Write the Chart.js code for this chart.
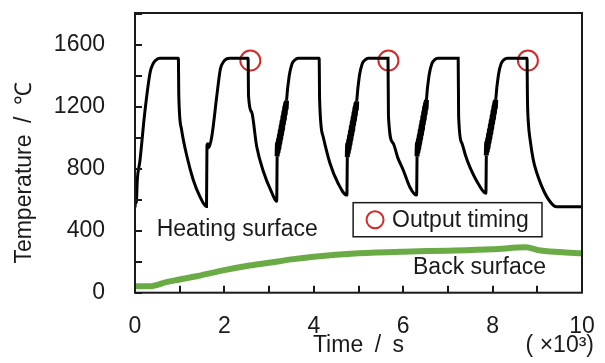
<!DOCTYPE html>
<html>
<head>
<meta charset="utf-8">
<script src="https://cdn.jsdelivr.net/npm/chart.js@4"></script>
<style>
  html, body { margin: 0; padding: 0; background: #fff; }
  #box { width: 605px; height: 363px; }
</style>
</head>
<body>
<div id="box"><canvas id="temps"></canvas></div>
<script>
// time in 10^3 s, temperature in degC
const heatTime = [
  0.00, 0.02, 0.03, 0.05, 0.11, 0.22, 0.34, 0.40, 0.45, 0.55, 0.97,
  0.98, 1.04, 1.16, 1.30, 1.45, 1.60,
  1.61, 1.63, 1.65, 1.72, 1.83, 1.91, 1.98, 2.05, 2.12, 2.53,
  2.54, 2.61, 2.72, 2.87, 3.06, 3.17,
  3.18, 3.19, 3.20, 3.21, 3.22, 3.23, 3.24, 3.25, 3.26, 3.27, 3.28, 3.29, 3.30, 3.31, 3.32, 3.33, 3.34, 3.35, 3.36, 3.37, 3.38, 3.39,
  3.45, 3.51, 3.57, 3.65, 4.12,
  4.13, 4.21, 4.36, 4.54, 4.74,
  4.75, 4.76, 4.77, 4.78, 4.79, 4.80, 4.81, 4.82, 4.83, 4.84, 4.85, 4.86, 4.87, 4.88, 4.89, 4.90, 4.91, 4.92, 4.93, 4.94, 4.95, 4.96,
  5.02, 5.08, 5.14, 5.22, 5.66,
  5.67, 5.77, 5.88, 6.00, 6.15, 6.30,
  6.31, 6.32, 6.33, 6.34, 6.35, 6.36, 6.37, 6.38, 6.39, 6.40, 6.41, 6.42, 6.43, 6.44, 6.45, 6.46, 6.47, 6.48, 6.49, 6.50, 6.51, 6.52,
  6.58, 6.64, 6.70, 6.78, 7.23,
  7.24, 7.31, 7.40, 7.49, 7.67, 7.85,
  7.86, 7.87, 7.88, 7.89, 7.90, 7.91, 7.92, 7.93, 7.94, 7.95, 7.96, 7.97, 7.98, 7.99, 8.00, 8.01, 8.02, 8.03, 8.04, 8.05, 8.06, 8.07,
  8.13, 8.19, 8.25, 8.33, 8.77,
  8.78, 8.80, 8.84, 8.91, 8.99, 9.17, 9.36, 9.44, 10.00
];
const heatTemp = [
  550, 620, 580, 720, 850, 1165, 1424, 1475, 1496, 1513, 1513,
  1270, 1055, 882, 731, 622, 557,
  950, 962, 935, 1011, 1270, 1444, 1490, 1509, 1513, 1513,
  1270, 1165, 947, 784, 646, 590,
  880, 965, 905, 990, 930, 1020, 960, 1050, 990, 1080, 1020, 1110, 1050, 1140, 1085, 1170, 1115, 1200, 1150, 1225, 1185, 1240,
  1400, 1475, 1500, 1513, 1513,
  1246, 1006, 837, 708, 630,
  875, 960, 900, 985, 925, 1015, 955, 1045, 985, 1075, 1015, 1105, 1045, 1135, 1080, 1165, 1110, 1195, 1145, 1220, 1180, 1235,
  1400, 1475, 1500, 1513, 1513,
  1140, 967, 870, 792, 681, 630,
  880, 965, 905, 990, 930, 1020, 960, 1050, 990, 1080, 1020, 1110, 1050, 1140, 1085, 1170, 1115, 1200, 1150, 1225, 1185, 1245,
  1405, 1478, 1502, 1513, 1513,
  1140, 967, 880, 812, 708, 642,
  885, 970, 910, 995, 935, 1025, 965, 1055, 995, 1085, 1025, 1115, 1055, 1145, 1090, 1175, 1120, 1205, 1155, 1230, 1190, 1245,
  1405, 1478, 1502, 1513, 1513,
  1246, 1097, 986, 857, 772, 642, 564, 554, 554
];
// stretches where the thermocouple signal is noisy (drawn as a thick band)
const noisyFrom = [3.18, 4.75, 6.31, 7.86];
const noisyTo = [3.39, 4.96, 6.52, 8.07];

const backTime = [0, 0.35, 0.7, 1, 1.4, 2, 2.5, 3, 3.5, 4, 5, 6, 7, 8, 8.75, 9, 9.5, 10];
const backTemp = [42, 42, 68, 85, 108, 146, 172, 193, 215, 232, 254, 265, 271, 280, 293, 276, 262, 254];

const markTime = [2.58, 5.67, 8.79];
const markTemp = [1498, 1498, 1498];

const xTicks = [0, 1, 2, 3, 4, 5, 6, 7, 8, 9, 10];
const xLabels = [0, 2, 4, 6, 8, 10];
const yTicks = [0, 200, 400, 600, 800, 1000, 1200, 1400, 1600, 1800];
const yLabels = [0, 400, 800, 1200, 1600];

const FONT = 'Arial, "Liberation Sans", sans-serif';
const INK = '#1a1a1a';
const SP = '\u2002';

const toPts = (xs, ys) => xs.map((x, i) => ({x: x, y: ys[i]}));
const noPad = s => { s.paddingTop = 0; s.paddingBottom = 0; s.paddingLeft = 0; s.paddingRight = 0; };
const isNoisy = t => noisyFrom.some((f, i) => t >= f - 1e-6 && t < noisyTo[i] - 1e-6);

// frame, inward ticks and the texts inside the plot
const decor = {
  id: 'decor',
  afterDatasetsDraw(chart) {
    const {ctx, chartArea: a, scales: {x, y}} = chart;
    ctx.save();
    ctx.strokeStyle = INK;
    ctx.lineWidth = 2;
    ctx.beginPath();
    y.ticks.forEach(t => {
      const py = Math.round(y.getPixelForValue(t.value));
      ctx.moveTo(a.left, py); ctx.lineTo(a.left + 7, py);
    });
    x.ticks.forEach(t => {
      const px = Math.round(x.getPixelForValue(t.value));
      ctx.moveTo(px, a.bottom); ctx.lineTo(px, a.bottom - 7);
    });
    ctx.stroke();
    ctx.strokeRect(a.left, a.top, a.right - a.left, a.bottom - a.top);

    ctx.fillStyle = INK;
    ctx.font = '23px ' + FONT;
    ctx.textBaseline = 'middle';
    ctx.textAlign = 'left';
    ctx.fillText('Heating surface', x.getPixelForValue(0.485), y.getPixelForValue(404));
    ctx.fillText('Back surface', x.getPixelForValue(6.22), y.getPixelForValue(160));

    // legend box
    const l = x.getPixelForValue(4.88), r = x.getPixelForValue(9.105);
    const t = y.getPixelForValue(581), b = y.getPixelForValue(361);
    ctx.fillStyle = '#fff';
    ctx.fillRect(l, t, r - l, b - t);
    ctx.lineWidth = 1.5;
    ctx.strokeRect(l, t, r - l, b - t);
    ctx.strokeStyle = '#d42a2a';
    ctx.lineWidth = 2;
    ctx.beginPath();
    ctx.arc(x.getPixelForValue(5.37), (t + b) / 2, 8.5, 0, Math.PI * 2);
    ctx.stroke();
    ctx.fillStyle = INK;
    ctx.fillText('Output timing', x.getPixelForValue(5.75), (t + b) / 2 + 1);

    // unit of the time axis
    ctx.textAlign = 'right';
    ctx.fillText('( \u00d710\u00b3)', x.getPixelForValue(10) + 12, 346);

    // temperature axis title
    ctx.translate(24.5, (a.top + a.bottom) / 2 + 20);
    ctx.rotate(-Math.PI / 2);
    ctx.textAlign = 'center';
    ctx.fillText('Temperature' + SP + '/' + SP + '\u2103', 0, 0);
    ctx.restore();
  }
};

new Chart(document.getElementById('temps'), {
  type: 'scatter',
  data: {
    datasets: [
      {
        label: 'Back surface',
        data: toPts(backTime, backTemp),
        showLine: true,
        borderColor: '#6aab45',
        borderWidth: 6,
        pointRadius: 0,
        cubicInterpolationMode: 'monotone'
      },
      {
        label: 'Heating surface',
        data: toPts(heatTime, heatTemp),
        showLine: true,
        borderColor: '#000',
        borderWidth: 3,
        pointRadius: 0,
        cubicInterpolationMode: 'monotone',
        segment: {
          borderWidth: c => isNoisy(c.p0.parsed.x) ? 5 : 3
        }
      },
      {
        label: 'Output timing',
        data: toPts(markTime, markTemp),
        pointRadius: 10,
        pointBorderWidth: 2,
        pointBorderColor: '#d42a2a',
        pointBackgroundColor: 'rgba(0,0,0,0)'
      }
    ]
  },
  options: {
    responsive: true,
    maintainAspectRatio: false,
    animation: false,
    layout: { padding: { left: 0, top: 13, right: 23, bottom: 0 } },
    plugins: { legend: { display: false }, tooltip: { enabled: false } },
    scales: {
      x: {
        type: 'linear',
        min: 0, max: 10,
        grid: { display: false, drawTicks: false },
        border: { display: false },
        afterBuildTicks: s => { s.ticks = xTicks.map(v => ({value: v})); },
        ticks: {
          autoSkip: false,
          maxRotation: 0,
          padding: 20,
          color: INK,
          font: { family: FONT, size: 23 },
          callback: v => xLabels.includes(v) ? String(v) : ''
        },
        title: {
          display: true,
          text: 'Time' + SP + '/' + SP + 's',
          color: INK,
          font: { family: FONT, size: 23, lineHeight: 1 },
          padding: { top: 0, bottom: 6 }
        },
        afterFit: s => { noPad(s); s.height = 70.3; }
      },
      y: {
        min: 0, max: 1805,
        grid: { display: false, drawTicks: false },
        border: { display: false },
        afterBuildTicks: s => { s.ticks = yTicks.map(v => ({value: v})); },
        ticks: {
          autoSkip: false,
          padding: 30,
          color: INK,
          font: { family: FONT, size: 23 },
          callback: v => yLabels.includes(v) ? String(v) : ''
        },
        afterFit: s => { noPad(s); s.width = 135; }
      }
    }
  },
  plugins: [decor]
});
</script>
</body>
</html>
